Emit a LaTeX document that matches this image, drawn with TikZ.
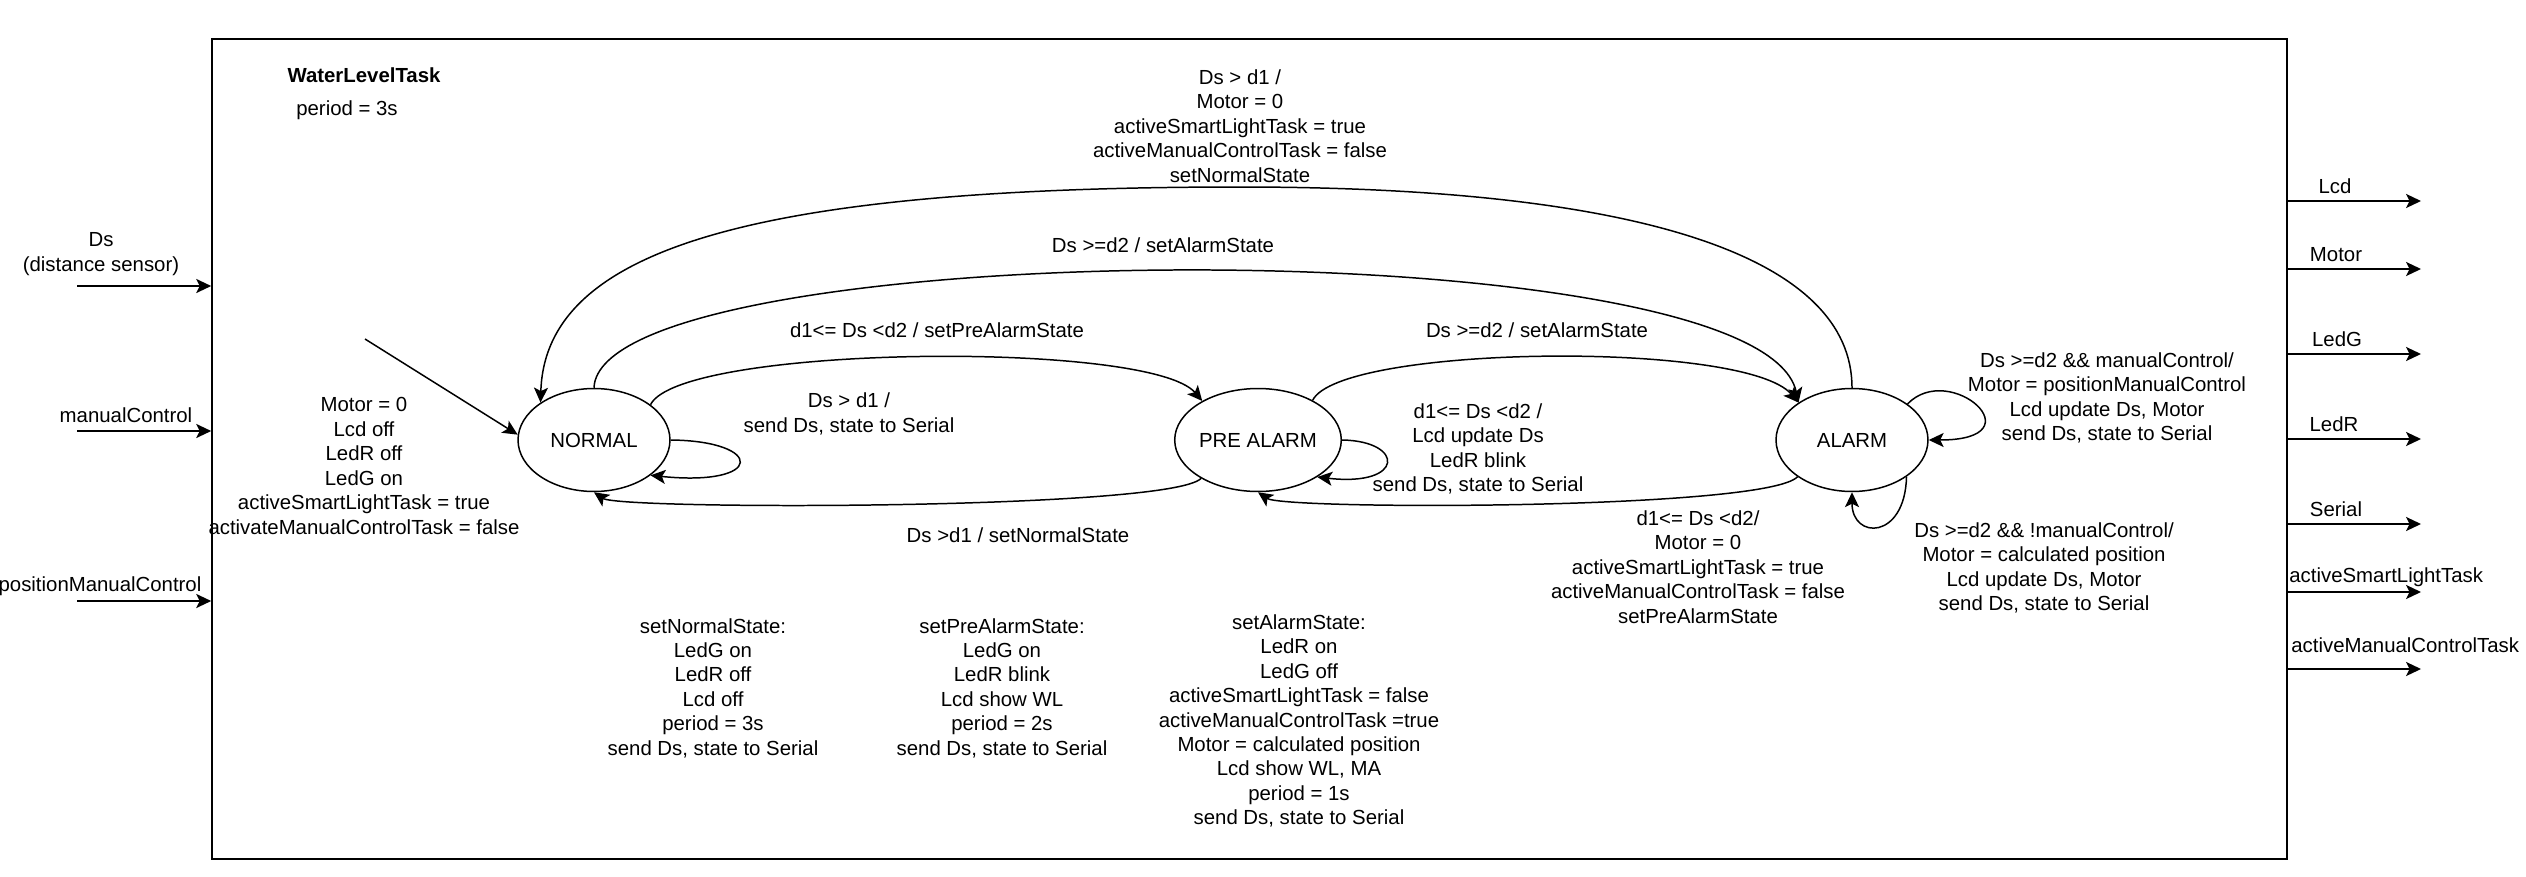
\documentclass[tikz,border=0pt]{standalone}
\usepackage{fontspec}
\setmainfont{Liberation Sans}
\usetikzlibrary{shapes.geometric,arrows.meta}
\tikzset{
  txt/.style={align=center, inner sep=0pt, font=\fontsize{11.6}{13.9}\selectfont},
  state/.style={txt, draw, ellipse, minimum width=3.04cm, minimum height=2.06cm, line width=0.85pt},
  edge/.style={-{Stealth[length=8.5pt,width=8pt,inset=2pt]}, line width=0.85pt},
  io/.style={-{Stealth[length=8.5pt,width=8pt,inset=2pt]}, line width=1.15pt}
}
\begin{document}
\begin{tikzpicture}[x=0.02cm,y=-0.02cm]
\useasboundingbox (0,0) rectangle (2526,876);
\node[draw, line width=1.15pt, minimum width=41.5cm, minimum height=16.4cm, inner sep=0pt] (task) at (1249.5,449) {};
\node[txt, font=\fontsize{11.6}{13.9}\selectfont\bfseries] (title) at (364,75) {WaterLevelTask};
\node[txt] (period) at (347,110) {period = 3s};
\begin{scope}
  \node[txt] (dsLbl) at (101,254) {Ds\\(distance sensor)};\coordinate (dsIn) at (77,286);\draw[io] (dsIn) -- (dsIn -| task.west);
  \node[txt] (mcLbl) at (126,415) {manualControl};\coordinate (mcIn) at (77,431);\draw[io] (mcIn) -- (mcIn -| task.west);
  \node[txt] (pmcLbl) at (100,586) {positionManualControl};\coordinate (pmcIn) at (77,601);\draw[io] (pmcIn) -- (pmcIn -| task.west);
\end{scope}
\begin{scope}
  \coordinate (lcdOut) at (2421,201);\draw[io] (lcdOut -| task.east) -- (lcdOut);\node[txt] (lcdLbl) at (2335,186) {Lcd};
  \coordinate (motorOut) at (2421,269);\draw[io] (motorOut -| task.east) -- (motorOut);\node[txt] (motorLbl) at (2336,255) {Motor};
  \coordinate (ledgOut) at (2421,354);\draw[io] (ledgOut -| task.east) -- (ledgOut);\node[txt] (ledgLbl) at (2337,339) {LedG};
  \coordinate (ledrOut) at (2421,439);\draw[io] (ledrOut -| task.east) -- (ledrOut);\node[txt] (ledrLbl) at (2334,424) {LedR};
  \coordinate (serialOut) at (2421,524);\draw[io] (serialOut -| task.east) -- (serialOut);\node[txt] (serialLbl) at (2336,509) {Serial};
  \coordinate (slOut) at (2421,592);\draw[io] (slOut -| task.east) -- (slOut);\node[txt, anchor=west] (slLbl) at (2289,577) {activeSmartLightTask};
  \coordinate (mctOut) at (2421,669);\draw[io] (mctOut -| task.east) -- (mctOut);\node[txt, anchor=west] (mctLbl) at (2291,645) {activeManualControlTask};
\end{scope}
\node[state] (normal) at (594,440) {NORMAL};
\node[state] (prealarm) at (1258,440) {PRE ALARM};
\node[state] (alarm) at (1852,440) {ALARM};
\coordinate (init) at (365,339);\draw[edge] (init) -- (normal.176);
\node[txt] (initLbl) at (364,466) {Motor = 0\\Lcd off\\LedR off\\LedG on\\activeSmartLightTask = true\\activateManualControlTask = false};
\coordinate (topPeak) at (1240,187);
\draw[edge] (alarm.north) .. controls (1852,260) and (1650,187) .. (topPeak) .. controls (750,187) and (545,250) .. (normal.145);
\node[txt] (a2nLbl) at (1240,126) {Ds > d1 /\\Motor = 0\\activeSmartLightTask = true\\activeManualControlTask = false\\setNormalState};
\draw[edge] (normal.north) .. controls (600,235) and (1760,225) .. (alarm.145);
\node[txt] (n2aLbl) at (1163,245) {Ds >=d2 / setAlarmState};
\draw[edge] (normal.32) .. controls (680,345) and (1150,340) .. (prealarm.145);
\node[txt] (n2pLbl) at (937,330) {d1<= Ds <d2 / setPreAlarmState};
\draw[edge] (prealarm.36) .. controls (1340,345) and (1745,340) .. (alarm.145);
\node[txt] (p2aLbl) at (1537,330) {Ds >=d2 / setAlarmState};
\draw[edge] (normal.east) .. controls (765,441) and (765,487) .. (normal.-32);
\node[txt] (nLoopLbl) at (849,414) {Ds > d1 /\\send Ds, state to Serial};
\draw[edge] (prealarm.east) .. controls (1405,441) and (1405,487) .. (prealarm.-32);
\node[txt] (pLoopLbl) at (1478,449) {d1<= Ds <d2 /\\Lcd update Ds\\LedR blink\\send Ds, state to Serial};
\draw[edge] (prealarm.214) .. controls (1170,510) and (620,510) .. (normal.south);
\node[txt] (p2nLbl) at (1018,535) {Ds >d1 / setNormalState};
\draw[edge] (alarm.214) .. controls (1766,510) and (1284,510) .. (prealarm.south);
\node[txt] (a2pLbl) at (1698,567) {d1<= Ds <d2/\\Motor = 0\\activeSmartLightTask = true\\activeManualControlTask = false\\setPreAlarmState};
\draw[edge] (alarm.33) .. controls (1950,360) and (2040,440) .. (alarm.east);
\node[txt] (aLoopLbl) at (2107,398) {Ds >=d2 \&\& manualControl/\\Motor = positionManualControl\\Lcd update Ds, Motor\\send Ds, state to Serial};
\draw[edge] (alarm.-34) .. controls (1905,540) and (1852,540) .. (alarm.south);
\node[txt] (aLoopTwoLbl) at (2044,568) {Ds >=d2 \&\& !manualControl/\\Motor = calculated position\\Lcd update Ds, Motor\\send Ds, state to Serial};
\node[txt] (normalDef) at (713,688) {setNormalState:\\LedG on\\LedR off\\Lcd off\\period = 3s\\send Ds, state to Serial};
\node[txt] (preDef) at (1002,688) {setPreAlarmState:\\LedG on\\LedR blink\\Lcd show WL\\period = 2s\\send Ds, state to Serial};
\node[txt] (alarmDef) at (1299,721) {setAlarmState:\\LedR on\\LedG off\\activeSmartLightTask = false\\activeManualControlTask =true\\Motor = calculated position\\Lcd show WL, MA\\period = 1s\\send Ds, state to Serial};
\end{tikzpicture}
\end{document}
